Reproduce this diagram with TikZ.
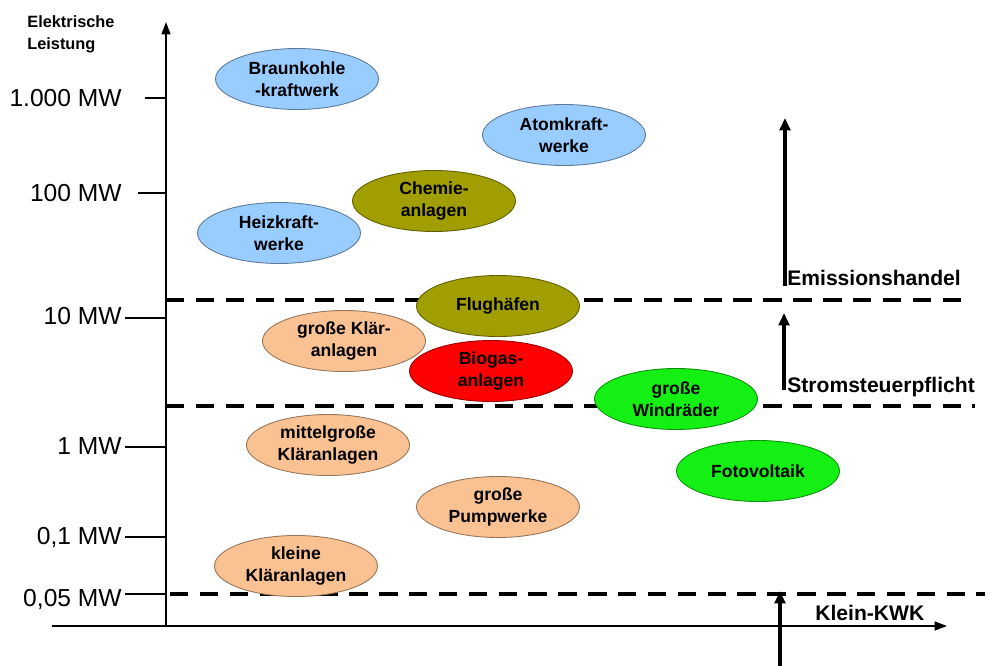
\documentclass[tikz,border=0pt]{standalone}
\usepackage{fontspec}
\setmainfont{Liberation Sans}
\usepackage{xcolor}
\usetikzlibrary{arrows.meta, shapes.geometric, positioning}

\definecolor{kwblue}{RGB}{153,204,255}
\definecolor{kwolive}{RGB}{160,158,0}
\definecolor{kwpeach}{RGB}{250,194,146}
\definecolor{kwred}{RGB}{255,0,0}
\definecolor{kwgreen}{RGB}{20,240,20}

\tikzset{
  anlage/.style={ellipse, draw=#1!60!black, fill=#1, line width=0.5pt,
                 minimum width=3.26cm, minimum height=1.22cm, inner sep=0pt,
                 align=center, font=\bfseries\fontsize{10}{12.5}\selectfont},
  grenze/.style={line width=2.3pt, dash pattern=on 10.5pt off 6.5pt},
  achse/.style={line width=1.1pt},
  stufe/.style={line width=1.8pt, -{Triangle[length=7pt,width=6pt]}},
  stufetext/.style={anchor=base west, inner sep=0pt,
                    font=\bfseries\fontsize{12}{14}\selectfont},
}

\begin{document}
\begin{tikzpicture}[x=0.02cm, y=-0.02cm]
\useasboundingbox (0,0) rectangle (992,666);

% Achsen
\coordinate (y0) at (166,626);
\coordinate (y1) at (166,22);
\coordinate (x0) at (52,626);
\coordinate (x1) at (947,626);
\draw[achse, -{Triangle[length=7pt,width=5pt]}] (y0) -- (y1);
\draw[achse, -{Triangle[length=7pt,width=5pt]}] (x0) -- (x1);
\node[anchor=north west, align=left, inner sep=0pt,
      font=\bfseries\fontsize{9.3}{12.5}\selectfont] (titel) at (27,15)
      {Elektrische\\Leistung};

% Skala
\foreach \y/\lab/\x/\ly in {98/{1.000 MW}/145/98, 193/{100 MW}/138/193,
                            318/{10 MW}/125/316, 447/{1 MW}/125/446,
                            537/{0,1 MW}/125/537, 594/{0,05 MW}/125/599}{
  \draw[achse] (\x,\y) -- (166,\y);
  \node[anchor=east, inner sep=0pt, font=\fontsize{14}{16}\selectfont]
       at (122,\ly) {\lab};
}

% Grenzen
\coordinate (g1a) at (166,300);  \coordinate (g1b) at (962,300);
\coordinate (g2a) at (166,406);  \coordinate (g2b) at (975,406);
\coordinate (g3a) at (170,594);  \coordinate (g3b) at (985,594);
\draw[grenze] (g1a) -- (g1b);
\draw[grenze] (g2a) -- (g2b);
\draw[grenze] (g3a) -- (g3b);

% Anlagen
\node[anlage=kwblue]  (braun)  at (297,79)  {Braunkohle\\-kraftwerk};
\node[anlage=kwblue]  (atom)   at (564,135) {Atomkraft-\\werke};
\node[anlage=kwolive] (chemie) at (434,201) {Chemie-\\anlagen};
\node[anlage=kwblue]  (heiz)   at (279,233) {Heizkraft-\\werke};
\node[anlage=kwolive] (flug)   at (498,306) {Flughäfen};
\node[anlage=kwpeach] (klaerg) at (344,341) {große Klär-\\anlagen};
\node[anlage=kwred]   (biogas) at (491,371) {Biogas-\\anlagen};
\node[anlage=kwgreen] (wind)   at (676,399) {große\\Windräder};
\node[anlage=kwpeach] (klaerm) at (328,445) {mittelgroße\\Kläranlagen};
\node[anlage=kwgreen] (foto)   at (758,471) {Fotovoltaik};
\node[anlage=kwpeach] (pumpe)  at (498,507) {große\\Pumpwerke};
\node[anlage=kwpeach] (klaerk) at (296,566) {kleine\\Kläranlagen};

% Pflichten
\coordinate (e0) at (785,286); \coordinate (e1) at (785,118);
\coordinate (s0) at (784,390); \coordinate (s1) at (784,313);
\coordinate (k0) at (780,666); \coordinate (k1) at (780,591);
\draw[stufe] (e0) -- (e1);
\draw[stufe] (s0) -- (s1);
\draw[stufe] (k0) -- (k1);
\node[stufetext] (emis)  at (787,285) {Emissionshandel};
\node[stufetext] (strom) at (787,392) {Stromsteuerpflicht};
\node[stufetext] (klein) at (815,620) {Klein-KWK};
\end{tikzpicture}
\end{document}
